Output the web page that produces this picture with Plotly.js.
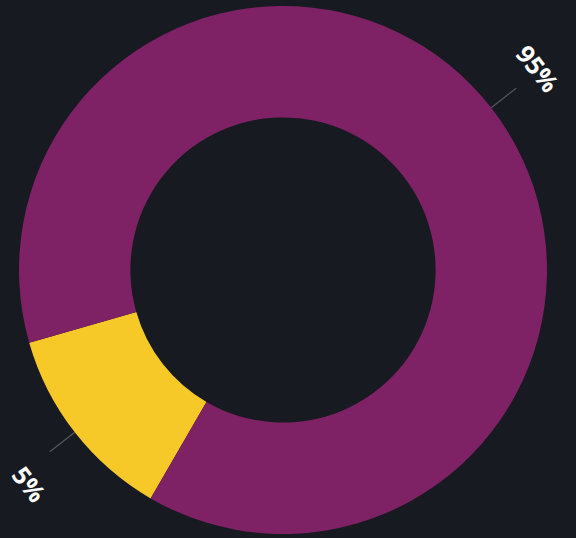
<!DOCTYPE html>
<html>
<head>
<meta charset="utf-8">
<script src="https://cdn.plot.ly/plotly-3.0.1.min.js"></script>
<style>
  html, body { margin: 0; padding: 0; background: #171a20; }
  #chart { width: 576px; height: 538px; }
</style>
</head>
<body>
<div id="chart"></div>
<script>
// Data (slice shares as drawn; labels as printed on the chart)
const categories = ['Yellow', 'Purple'];
const sliceShares = [12.2, 87.8];
const labelTexts = ['5%', '95%'];
const sliceColors = ['#f7c928', '#7e2165'];

const W = 576, H = 538;
const domX = [19 / W, 547 / W];
const domY = [4 / H, 532 / H];
const startAngle = 210.1; // clockwise from 12 o'clock
const LABEL_NUDGE = [[5, -13], [-3, 1]]; // pixel nudges (xshift, yshift)

// geometry derived from domain
const cx = (domX[0] + domX[1]) / 2 * W;
const cy = H - (domY[0] + domY[1]) / 2 * H;
const R = Math.min((domX[1] - domX[0]) * W, (domY[1] - domY[0]) * H) / 2;

const total = sliceShares.reduce((a, b) => a + b, 0);
const annotations = [];
const shapes = [];
let acc = startAngle;
function toPaper(r, deg) {
  const a = deg * Math.PI / 180;
  const px = cx + r * Math.sin(a);
  const py = cy - r * Math.cos(a);
  return [px / W, 1 - py / H];
}
sliceShares.forEach((v, i) => {
  const span = v / total * 360;
  const mid = acc + span / 2;
  acc += span;
  const p1 = toPaper(R * 1.0, mid);
  const p2 = toPaper(R * 1.12, mid);
  shapes.push({
    type: 'line', xref: 'paper', yref: 'paper',
    x0: p1[0], y0: p1[1], x1: p2[0], y1: p2[1],
    line: { color: '#55585d', width: 1.2 }
  });
  const pt = toPaper(R * 1.24, mid);
  let ang = ((mid % 180) + 180) % 180;
  annotations.push({
    xref: 'paper', yref: 'paper', x: pt[0], y: pt[1],
    xanchor: 'center', yanchor: 'middle', showarrow: false,
    xshift: LABEL_NUDGE[i][0], yshift: LABEL_NUDGE[i][1],
    borderpad: 0,
    text: '<b>' + labelTexts[i] + '</b>', textangle: ang,
    font: { family: 'Open Sans, Roboto, sans-serif', size: 25, color: '#ffffff' }
  });
});

const trace = {
  type: 'pie',
  labels: categories,
  values: sliceShares,
  hole: 0.578,
  sort: false,
  direction: 'clockwise',
  rotation: startAngle - 360,
  marker: { colors: sliceColors, line: { width: 0 } },
  textinfo: 'none',
  hoverinfo: 'skip',
  showlegend: false,
  domain: { x: domX, y: domY }
};

Plotly.newPlot('chart', [trace], {
  width: W, height: H,
  margin: { l: 0, r: 0, t: 0, b: 0 },
  paper_bgcolor: '#171a20',
  plot_bgcolor: '#171a20',
  showlegend: false,
  annotations: annotations,
  shapes: shapes
}, { displayModeBar: false, staticPlot: true });
</script>
</body>
</html>
